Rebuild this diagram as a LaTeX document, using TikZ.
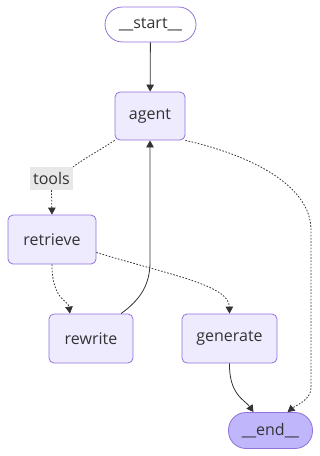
\documentclass[tikz,border=0pt]{standalone}
\usepackage{fontspec}
\setmainfont{Open Sans}
\usetikzlibrary{arrows.meta}
\definecolor{nodefill}{HTML}{EEEBFF}
\definecolor{nodeborder}{HTML}{9370DB}
\definecolor{endfill}{HTML}{BFB6FC}
\definecolor{edgec}{HTML}{333333}
\definecolor{lblfill}{HTML}{E8E8E8}
\begin{document}
\begin{tikzpicture}[x=1pt,y=-1pt,
  base/.style={draw=nodeborder, line width=0.8pt, inner sep=0pt, text=edgec,
    font=\fontsize{16}{19}\selectfont},
  box/.style={base, fill=nodefill, rounded corners=5pt, minimum height=49pt},
  term/.style={base, rounded corners=17.5pt, minimum height=35pt},
  lbl/.style={fill=lblfill, inner sep=0pt, text=edgec, minimum width=43pt,
    minimum height=23pt, font=\fontsize{16}{19}\selectfont},
  flow/.style={draw=edgec, line width=0.8pt, -{Triangle[length=7pt,width=7.5pt]}},
  condline/.style={draw=edgec, line width=0.8pt, dash pattern=on 1.6pt off 1.6pt},
  cond/.style={condline, -{Triangle[length=7pt,width=7.5pt]}}]
\useasboundingbox (0,0) rectangle (320,456);
\node[term, fill=white, minimum width=91pt] (start) at (150.5,24.5) {\_\_start\_\_};
\node[box, minimum width=70pt, minimum height=48pt] (agent) at (150,116) {agent};
\node[lbl] (tools) at (51.5,178.5) {tools};
\node[box, minimum width=88pt] (retrieve) at (52,239.5) {retrieve};
\node[box, minimum width=84pt] (rewrite) at (91,338.5) {rewrite};
\node[box, minimum width=95pt] (generate) at (229.5,338.5) {generate};
\node[term, fill=endfill, minimum width=84pt, minimum height=36pt] (end) at (270.5,430.5) {\_\_end\_\_};
\coordinate (rwbend) at (150,262);
\coordinate (aebend) at (311,230);
\coordinate (aebend2) at (311,388);

\draw[flow] (start) -- (agent);
\draw[condline] (agent.south west) .. controls (100,150) and (85,158) .. (tools.north east);
\draw[cond] (tools.south) -- (retrieve.north);
\draw[cond] (agent.south east) .. controls (250,155) and (311,185) .. (aebend) -- (aebend2)
  .. controls (311,400) and (295,406) .. ([xshift=17pt]end.north);
\draw[cond] (retrieve.south) .. controls (52,300) and (68,300) .. ([xshift=-21pt]rewrite.north);
\draw[cond] ([yshift=-13pt]retrieve.east) .. controls (170,275) and (229,285) .. (generate.north);
\draw[flow] ([xshift=30pt]rewrite.north) .. controls (140,300) and (150,285) .. (rwbend) -- (agent.south);
\draw[flow] (generate.south) .. controls (229,395) and (245,400) .. ([xshift=-17pt]end.north);
\end{tikzpicture}
\end{document}
